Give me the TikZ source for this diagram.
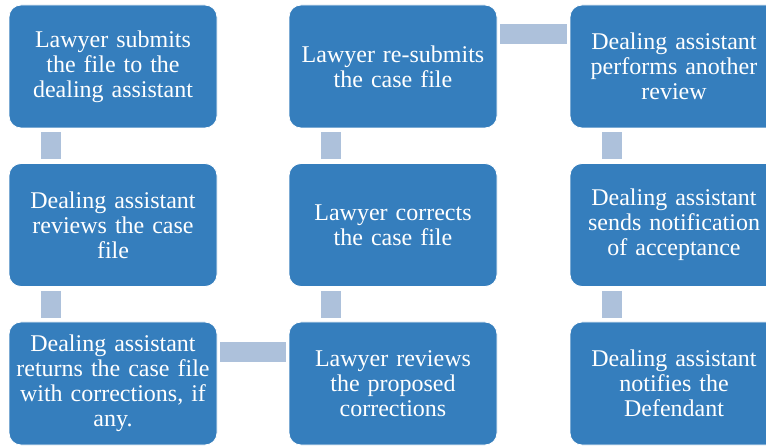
\documentclass[tikz,border=0pt]{standalone}
\usepackage{fontspec}
\setmainfont{Liberation Serif}
\newfontfamily\boxfont{Liberation Serif}
\definecolor{boxblue}{RGB}{53,126,189}
\definecolor{connblue}{RGB}{173,193,219}
\begin{document}
\begin{tikzpicture}[x=1pt,y=-1pt,
  stepbox/.style={rectangle, rounded corners=12pt, fill=boxblue, draw=white, line width=0.8pt,
    minimum width=208pt, minimum height=123pt, text=white, align=center, text width=204pt,
    inner sep=2pt, font=\boxfont\fontsize{24}{25}\selectfont},
  conn/.style={draw=connblue, line width=20pt}]
\useasboundingbox (0,0) rectangle (766,446);
\clip (0,0) rectangle (766,446);
\node[stepbox] (b1) at (113,66.5) {Lawyer submits\\the file to the\\dealing assistant};
\node[stepbox] (b2) at (113,225) {Dealing assistant\\reviews the case\\file};
\node[stepbox] (b3) at (113,383.5) {Dealing assistant\\returns the case file\\with corrections, if\\any.};
\node[stepbox] (b4) at (393,383.5) {Lawyer reviews\\the proposed\\corrections};
\node[stepbox] (b5) at (393,225) {Lawyer corrects\\the case file};
\node[stepbox] (b6) at (393,66.5) {Lawyer re-submits\\the case file};
\node[stepbox] (b7) at (674,66.5) {Dealing assistant\\performs another\\review};
\node[stepbox] (b8) at (674,225) {Dealing assistant\\sends notification\\of acceptance};
\node[stepbox] (b9) at (674,383.5) {Dealing assistant\\notifies the\\Defendant};
\draw[conn, shorten <=4pt, shorten >=4pt] ([xshift=-62.5pt]b1.south) -- ([xshift=-62.5pt]b2.north);
\draw[conn, shorten <=4pt, shorten >=4pt] ([xshift=-62.5pt]b2.south) -- ([xshift=-62.5pt]b3.north);
\draw[conn, shorten <=3pt, shorten >=3pt] ([yshift=31.5pt]b3.east) -- ([yshift=31.5pt]b4.west);
\draw[conn, shorten <=4pt, shorten >=4pt] ([xshift=-62.5pt]b4.north) -- ([xshift=-62.5pt]b5.south);
\draw[conn, shorten <=4pt, shorten >=4pt] ([xshift=-62.5pt]b5.north) -- ([xshift=-62.5pt]b6.south);
\draw[conn, shorten <=3pt, shorten >=3pt] ([yshift=32.5pt]b6.east) -- ([yshift=32.5pt]b7.west);
\draw[conn, shorten <=4pt, shorten >=4pt] ([xshift=-62.5pt]b7.south) -- ([xshift=-62.5pt]b8.north);
\draw[conn, shorten <=4pt, shorten >=4pt] ([xshift=-62.5pt]b8.south) -- ([xshift=-62.5pt]b9.north);
\end{tikzpicture}
\end{document}
